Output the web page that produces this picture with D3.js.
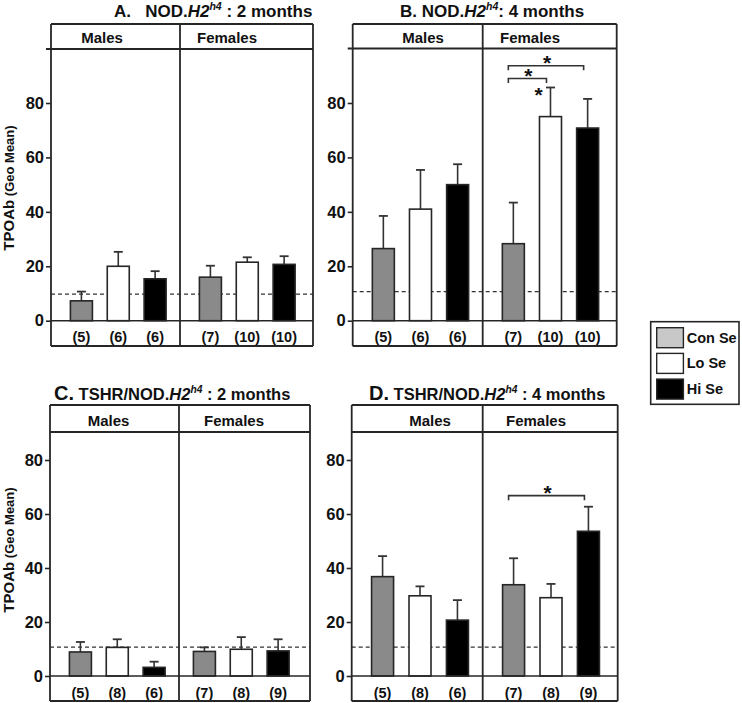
<!DOCTYPE html>
<html>
<head>
<meta charset="utf-8">
<script src="https://cdn.jsdelivr.net/npm/d3@7"></script>
<style>
  body { margin: 0; background: #fff; }
  svg { display: block; font-family: "Liberation Sans", Arial, sans-serif; font-weight: bold; }
</style>
</head>
<body>
<svg id="chart" width="742" height="703"></svg>
<script>
// ---------------- DATA ----------------
const groups = ["Males", "Females"];
const series = ["Con Se", "Lo Se", "Hi Se"];
const yTicks = [0, 20, 40, 60, 80];

// values ordered: Males (Con, Lo, Hi), Females (Con, Lo, Hi)
const meanA = [7.3, 20.0, 15.4, 16.0, 21.5, 20.7];
const errA  = [10.7, 25.3, 18.2, 20.2, 23.3, 23.7];
const nA    = ["(5)", "(6)", "(6)", "(7)", "(10)", "(10)"];

const meanB = [26.5, 41.0, 50.0, 28.3, 75.0, 70.8];
const errB  = [38.5, 55.4, 57.5, 43.4, 85.7, 81.5];
const nB    = ["(5)", "(6)", "(6)", "(7)", "(10)", "(10)"];

const meanC = [8.9, 10.6, 3.2, 9.1, 9.9, 9.3];
const errC  = [12.6, 13.6, 5.3, 10.6, 14.4, 13.6];
const nC    = ["(5)", "(8)", "(6)", "(7)", "(8)", "(9)"];

const meanD = [36.8, 29.7, 20.7, 33.8, 29.0, 53.6];
const errD  = [44.4, 33.2, 28.1, 43.6, 34.1, 62.7];
const nD    = ["(5)", "(8)", "(6)", "(7)", "(8)", "(9)"];

const cutoffs = { A: 9.8, B: 10.7, C: 10.7, D: 10.7 };

// significance brackets: panel, group, from series, to series, level (data units)
const brackets = [
  { panel: "B", group: "Females", from: "Con Se", to: "Hi Se", level: 93.7 },
  { panel: "B", group: "Females", from: "Con Se", to: "Lo Se", level: 89.0 },
  { panel: "D", group: "Females", from: "Con Se", to: "Hi Se", level: 66.8 }
];
// asterisk next to an error bar
const barStars = [ { panel: "B", group: "Females", series: "Lo Se" } ];

const titles = {
  A: { letter: "A.", pre: "\u00a0\u00a0\u00a0NOD.", it: "H2", sup: "h4", post: " : 2 months" },
  B: { letter: "B.", pre: " NOD.", it: "H2", sup: "h4", post: ": 4 months" },
  C: { letter: "C.", pre: " TSHR/NOD.", it: "H2", sup: "h4", post: " : 2 months" },
  D: { letter: "D.", pre: " TSHR/NOD.", it: "H2", sup: "h4", post: " : 4 months" }
};

const panelData = {
  A: { mean: meanA, err: errA, n: nA },
  B: { mean: meanB, err: errB, n: nB },
  C: { mean: meanC, err: errC, n: nC },
  D: { mean: meanD, err: errD, n: nD }
};

// ---------------- LAYOUT / STYLE ----------------
const layout = {
  A: { left: 51, right: 313, div: 180, top: 24, header: 49, bottom: 346, y0: 320.7, y80: 103,
       titleX: 114, titleY: 17, letterSize: 17, bodySize: 17, mx: 102, fx: 227, topTick: true, fShift: 0, yLabel: 188 },
  B: { left: 352.7, right: 616.7, div: 482.7, top: 24, header: 48.5, bottom: 346, y0: 320.7, y80: 103,
       titleX: 400, titleY: 17, letterSize: 17, bodySize: 17, mx: 423, fx: 530, topTick: true, fShift: 0 },
  C: { left: 50, right: 310, div: 179, top: 405, header: 432, bottom: 701, y0: 676, y80: 460,
       titleX: 54, titleY: 400, letterSize: 20, bodySize: 16.5, mx: 108.5, fx: 234, topTick: false, fShift: -5, yLabel: 550 },
  D: { left: 351.7, right: 617.7, div: 482.7, top: 405, header: 432, bottom: 701, y0: 676, y80: 460,
       titleX: 369, titleY: 400, letterSize: 20, bodySize: 16.5, mx: 430, fx: 536, topTick: false, fShift: 0 }
};

const barFill = { "Con Se": "#8a8a8a", "Lo Se": "#ffffff", "Hi Se": "#000000" };
const legendFill = { "Con Se": "#c8c8c8", "Lo Se": "#ffffff", "Hi Se": "#000000" };
const ink = "#262626";
const barW = 22;

const svg = d3.select("#chart");

Object.keys(layout).forEach(key => {
  const L = layout[key];
  const D = panelData[key];
  const g = svg.append("g");

  const y = d3.scaleLinear().domain([0, 80]).range([L.y0, L.y80]);
  const xg = d3.scaleBand().domain(groups).range([L.left, 2 * L.div - L.left]).padding(0);
  const xs = d3.scalePoint().domain(series).range([0, xg.bandwidth()]).padding(0.75).align(0.55);
  const cx = (grp, s) => xg(grp) + xs(s) + (grp === "Females" ? L.fShift : 0);

  // rows
  const rows = [];
  groups.forEach((grp, gi) => series.forEach((s, si) => {
    const i = gi * 3 + si;
    rows.push({ grp, s, mean: D.mean[i], err: D.err[i], n: D.n[i] });
  }));

  // dashed cutoff
  g.append("line")
    .attr("x1", L.left).attr("x2", L.right)
    .attr("y1", y(cutoffs[key])).attr("y2", y(cutoffs[key]))
    .attr("stroke", "#333").attr("stroke-width", 1.2).attr("stroke-dasharray", "4,3");

  // error bars
  rows.forEach(r => {
    const x = cx(r.grp, r.s);
    g.append("line").attr("x1", x).attr("x2", x).attr("y1", y(r.mean)).attr("y2", y(r.err))
      .attr("stroke", "#333").attr("stroke-width", 1.6);
    g.append("line").attr("x1", x - 4.5).attr("x2", x + 4.5).attr("y1", y(r.err)).attr("y2", y(r.err))
      .attr("stroke", "#333").attr("stroke-width", 1.8);
  });

  // bars
  g.selectAll("rect.bar").data(rows).join("rect")
    .attr("class", "bar")
    .attr("x", d => cx(d.grp, d.s) - barW / 2)
    .attr("y", d => y(d.mean))
    .attr("width", barW)
    .attr("height", d => y(0) - y(d.mean))
    .attr("fill", d => barFill[d.s])
    .attr("stroke", ink).attr("stroke-width", 1.6);

  // n labels
  g.selectAll("text.n").data(rows).join("text")
    .attr("class", "n")
    .attr("x", d => cx(d.grp, d.s))
    .attr("y", L.y0 + 21.5)
    .attr("text-anchor", "middle")
    .attr("font-size", 14.5)
    .attr("fill", "#111")
    .text(d => d.n);

  // zero line
  g.append("line").attr("x1", L.left).attr("x2", L.right).attr("y1", y(0)).attr("y2", y(0))
    .attr("stroke", ink).attr("stroke-width", 1.6);

  // frame
  const fr = g.append("g").attr("stroke", ink).attr("stroke-width", 1.8).attr("fill", "none");
  fr.append("line").attr("x1", L.left).attr("x2", L.right).attr("y1", L.top).attr("y2", L.top);
  fr.append("line").attr("x1", L.left).attr("x2", L.right).attr("y1", L.bottom).attr("y2", L.bottom);
  fr.append("line").attr("x1", L.left - (L.topTick ? 5 : 0)).attr("x2", L.right).attr("y1", L.header).attr("y2", L.header);
  fr.append("line").attr("x1", L.left).attr("x2", L.left).attr("y1", L.top).attr("y2", L.bottom);
  fr.append("line").attr("x1", L.right).attr("x2", L.right).attr("y1", L.top).attr("y2", L.bottom);
  fr.append("line").attr("x1", L.div).attr("x2", L.div).attr("y1", L.top).attr("y2", L.bottom);

  // axis
  const ax = g.append("g").attr("transform", `translate(${L.left},0)`)
    .call(d3.axisLeft(y).tickValues(yTicks).tickSize(5).tickPadding(2));
  ax.select(".domain").remove();
  ax.selectAll(".tick line").attr("stroke", ink).attr("stroke-width", 1.6);
  ax.selectAll(".tick text").attr("font-size", 16.5).attr("font-weight", "bold")
    .attr("font-family", "Liberation Sans, Arial, sans-serif").attr("fill", "#111");

  // header labels
  g.append("text").attr("x", L.mx).attr("y", L.header - 6).attr("text-anchor", "middle")
    .attr("font-size", 15).attr("fill", "#111").text(groups[0]);
  g.append("text").attr("x", L.fx).attr("y", L.header - 6).attr("text-anchor", "middle")
    .attr("font-size", 15).attr("fill", "#111").text(groups[1]);

  // title
  const T = titles[key];
  const t = g.append("text").attr("x", L.titleX).attr("y", L.titleY).attr("fill", "#111");
  t.append("tspan").attr("font-size", L.letterSize).text(T.letter);
  t.append("tspan").attr("font-size", L.bodySize).text(T.pre);
  t.append("tspan").attr("font-size", L.bodySize).attr("font-style", "italic").text(T.it);
  t.append("tspan").attr("font-size", L.bodySize * 0.62).attr("font-style", "italic").attr("dy", -7).text(T.sup);
  t.append("tspan").attr("font-size", L.bodySize).attr("dy", 7).text(T.post);

  // y label
  if (L.yLabel) {
    const yl = g.append("text").attr("transform", `translate(14,${L.yLabel}) rotate(-90)`)
      .attr("text-anchor", "middle").attr("fill", "#111");
    yl.append("tspan").attr("font-size", 15).text("TPOAb");
    yl.append("tspan").attr("font-size", 13).text(" (Geo Mean)");
  }

  // brackets
  brackets.filter(b => b.panel === key).forEach(b => {
    const x1 = cx(b.group, b.from) - 5, x2 = cx(b.group, b.to) - 4;
    const yy = y(b.level);
    g.append("path").attr("d", `M${x1},${yy + 4.5}V${yy}H${x2}V${yy + 4.5}`)
      .attr("fill", "none").attr("stroke", "#333").attr("stroke-width", 1.6);
    g.append("text").attr("x", (x1 + x2) / 2 + 1).attr("y", yy + 4).attr("text-anchor", "middle")
      .attr("font-size", 21).attr("fill", "#111").text("*");
  });
  barStars.filter(b => b.panel === key).forEach(b => {
    const r = rows.find(r => r.grp === b.group && r.s === b.series);
    g.append("text").attr("x", cx(b.group, b.series) - 12).attr("y", y(r.err) + 15)
      .attr("text-anchor", "middle").attr("font-size", 21).attr("fill", "#111").text("*");
  });
});

// legend
const lg = svg.append("g");
lg.append("rect").attr("x", 650.7).attr("y", 321.7).attr("width", 88.3).attr("height", 82.6)
  .attr("fill", "#fff").attr("stroke", ink).attr("stroke-width", 1.6);
series.forEach((s, i) => {
  const yy = 327.7 + i * 25.7;
  lg.append("rect").attr("x", 656.7).attr("y", yy).attr("width", 26.7).attr("height", 20)
    .attr("fill", legendFill[s]).attr("stroke", ink).attr("stroke-width", 1.4);
  lg.append("text").attr("x", 686.7).attr("y", yy + 15).attr("font-size", 14.5).attr("fill", "#111").text(s);
});
</script>
</body>
</html>
